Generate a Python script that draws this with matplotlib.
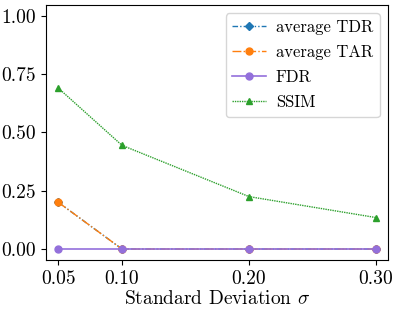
import matplotlib
matplotlib.use("Agg")
import matplotlib.pyplot as plt

plt.rcParams['font.family'] = 'serif'
plt.rcParams['font.serif'] = ['cmr10']
plt.rcParams['mathtext.fontset'] = 'cm'
plt.rcParams['axes.formatter.use_mathtext'] = True

sigma = [0.05, 0.10, 0.20, 0.30]
avg_tdr = [0.20, 0.0, 0.0, 0.0]
avg_tar = [0.20, 0.0, 0.0, 0.0]
fdr = [0.0, 0.0, 0.0, 0.0]
ssim = [0.69, 0.445, 0.225, 0.135]
xtick_labels = ['0.05', '0.10', '0.20', '0.30']
yticks = [0.0, 0.25, 0.5, 0.75, 1.0]
ytick_labels = ['0.00', '0.25', '0.50', '0.75', '1.00']

fig = plt.figure(figsize=(3.99, 3.13), dpi=100)
ax = fig.add_axes([46/399, 1-260/313, (388-46)/399, (260-5)/313])

ax.plot(sigma, avg_tdr, color='#1f77b4', linestyle=(0, (4, 1.5, 1, 1.5, 1, 1.5)), marker='D',
        markersize=4.5, linewidth=1.0, label='average TDR')
ax.plot(sigma, avg_tar, color='#ff7f0e', linestyle='-.', marker='o',
        markersize=5, linewidth=1.0, label='average TAR')
ax.plot(sigma, fdr, color='mediumpurple', linestyle='-', marker='o',
        markersize=5, linewidth=1.2, label='FDR')
ax.plot(sigma, ssim, color='#2ca02c', linestyle=(0, (1, 0.7)), marker='^',
        markersize=5, linewidth=1.0, label='SSIM')

ax.set_xticks(sigma)
ax.set_xticklabels(xtick_labels)
ax.set_yticks(yticks)
ax.set_yticklabels(ytick_labels)
ax.tick_params(labelsize=14)
ax.set_xlim(0.0402, 0.3094)
ax.set_ylim(-0.047, 1.047)
ax.set_xlabel(r'Standard Deviation $\sigma$', fontsize=14, labelpad=2)
ax.legend(loc='upper right', fontsize=12, labelspacing=0.58, handlelength=2.0,
          handletextpad=0.6)

fig.savefig('out.png', dpi=100)
